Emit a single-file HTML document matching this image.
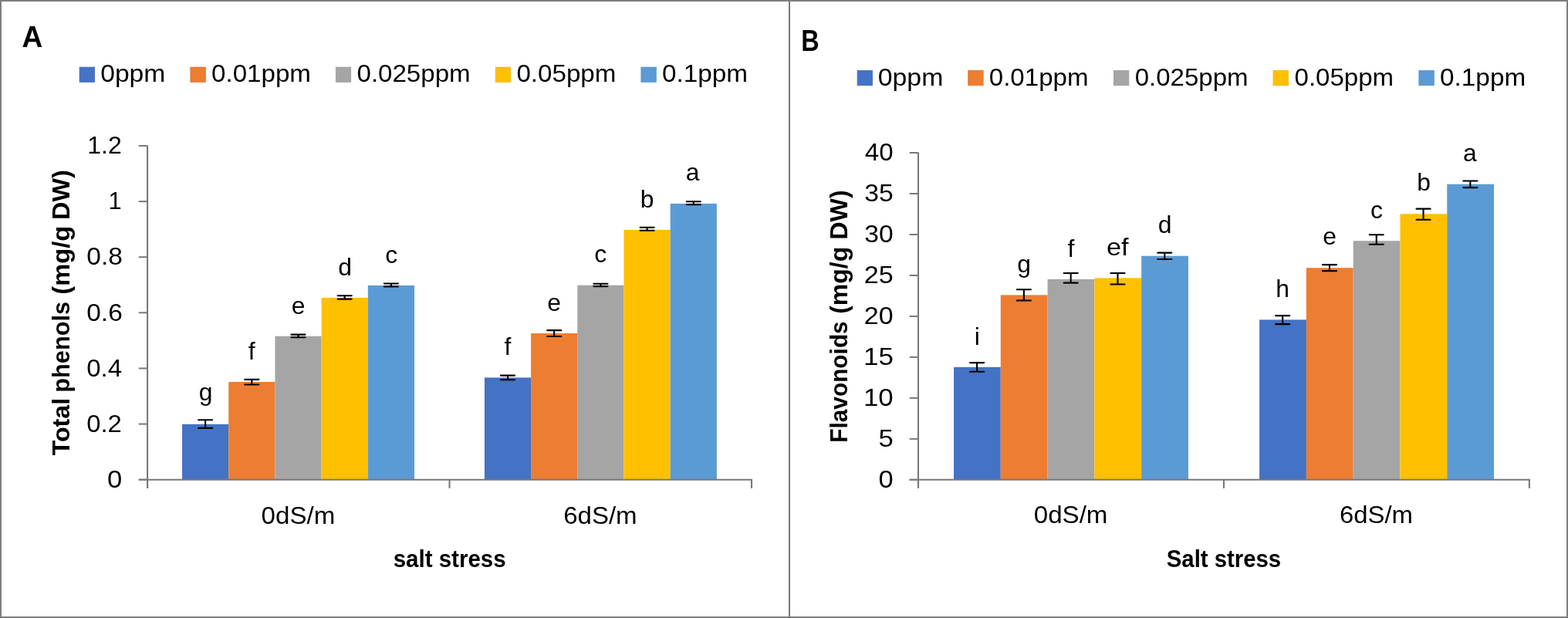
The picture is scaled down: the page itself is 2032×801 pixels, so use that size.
<!DOCTYPE html>
<html><head><meta charset="utf-8"><title>Total phenols and flavonoids</title><style>html,body{margin:0;padding:0;background:#fff;overflow:hidden;}svg{display:block;}</style></head><body>
<svg width="2032" height="801" viewBox="0 0 2032 801" role="img" aria-label="Total phenols and flavonoids under salt stress">
<rect x="0" y="0" width="2032" height="801" fill="#fff"/>
<rect class="bar" x="236.03" y="549.80" width="60.19" height="72.00" fill="#4472C4"/>
<rect class="bar" x="296.22" y="495.00" width="60.19" height="126.80" fill="#ED7D31"/>
<rect class="bar" x="356.41" y="435.70" width="60.19" height="186.10" fill="#A5A5A5"/>
<rect class="bar" x="416.60" y="385.90" width="60.19" height="235.90" fill="#FFC000"/>
<rect class="bar" x="476.79" y="370.00" width="60.19" height="251.80" fill="#5B9BD5"/>
<rect class="bar" x="627.90" y="489.40" width="60.19" height="132.40" fill="#4472C4"/>
<rect class="bar" x="688.09" y="432.00" width="60.19" height="189.80" fill="#ED7D31"/>
<rect class="bar" x="748.28" y="369.70" width="60.19" height="252.10" fill="#A5A5A5"/>
<rect class="bar" x="808.47" y="297.90" width="60.19" height="323.90" fill="#FFC000"/>
<rect class="bar" x="868.66" y="263.90" width="60.19" height="357.90" fill="#5B9BD5"/>
<path class="ax" d="M191.05 188.50V632.80" stroke="#787878" stroke-width="2.1" fill="none"/>
<path class="ax" d="M179.75 621.80H975.00" stroke="#787878" stroke-width="2" fill="none"/>
<path class="ax" d="M179.75 621.70H191.05" stroke="#787878" stroke-width="2" fill="none"/>
<path class="ax" d="M179.75 549.58H191.05" stroke="#787878" stroke-width="2" fill="none"/>
<path class="ax" d="M179.75 477.46H191.05" stroke="#787878" stroke-width="2" fill="none"/>
<path class="ax" d="M179.75 405.34H191.05" stroke="#787878" stroke-width="2" fill="none"/>
<path class="ax" d="M179.75 333.22H191.05" stroke="#787878" stroke-width="2" fill="none"/>
<path class="ax" d="M179.75 261.10H191.05" stroke="#787878" stroke-width="2" fill="none"/>
<path class="ax" d="M179.75 188.98H191.05" stroke="#787878" stroke-width="2" fill="none"/>
<path class="ax" d="M191.05 621.80V632.80" stroke="#787878" stroke-width="2.1" fill="none"/>
<path class="ax" d="M582.52 621.80V632.80" stroke="#787878" stroke-width="2.1" fill="none"/>
<path class="ax" d="M974.00 621.80V632.80" stroke="#787878" stroke-width="2.1" fill="none"/>
<path class="err" d="M257.07 544.25H275.18M257.07 554.90H275.18" stroke="#000" stroke-width="2.1" stroke-linecap="round" fill="none"/>
<path class="err" d="M266.12 544.25V554.90" stroke="#000" stroke-width="2.1" fill="none"/>
<path class="err" d="M317.27 491.90H335.37M317.27 498.50H335.37" stroke="#000" stroke-width="2.1" stroke-linecap="round" fill="none"/>
<path class="err" d="M326.32 491.90V498.50" stroke="#000" stroke-width="2.1" fill="none"/>
<path class="err" d="M377.45 433.60H395.56M377.45 437.20H395.56" stroke="#000" stroke-width="2.1" stroke-linecap="round" fill="none"/>
<path class="err" d="M386.50 433.60V437.20" stroke="#000" stroke-width="2.1" fill="none"/>
<path class="err" d="M437.65 383.30H455.75M437.65 387.60H455.75" stroke="#000" stroke-width="2.1" stroke-linecap="round" fill="none"/>
<path class="err" d="M446.70 383.30V387.60" stroke="#000" stroke-width="2.1" fill="none"/>
<path class="err" d="M497.83 367.50H515.93M497.83 371.35H515.93" stroke="#000" stroke-width="2.1" stroke-linecap="round" fill="none"/>
<path class="err" d="M506.88 367.50V371.35" stroke="#000" stroke-width="2.1" fill="none"/>
<path class="err" d="M648.95 486.60H667.04M648.95 492.25H667.04" stroke="#000" stroke-width="2.1" stroke-linecap="round" fill="none"/>
<path class="err" d="M658.00 486.60V492.25" stroke="#000" stroke-width="2.1" fill="none"/>
<path class="err" d="M709.13 428.10H727.23M709.13 436.00H727.23" stroke="#000" stroke-width="2.1" stroke-linecap="round" fill="none"/>
<path class="err" d="M718.18 428.10V436.00" stroke="#000" stroke-width="2.1" fill="none"/>
<path class="err" d="M769.33 367.75H787.42M769.33 371.10H787.42" stroke="#000" stroke-width="2.1" stroke-linecap="round" fill="none"/>
<path class="err" d="M778.38 367.75V371.10" stroke="#000" stroke-width="2.1" fill="none"/>
<path class="err" d="M829.52 294.80H847.62M829.52 298.80H847.62" stroke="#000" stroke-width="2.1" stroke-linecap="round" fill="none"/>
<path class="err" d="M838.57 294.80V298.80" stroke="#000" stroke-width="2.1" fill="none"/>
<path class="err" d="M889.71 261.20H907.80M889.71 265.10H907.80" stroke="#000" stroke-width="2.1" stroke-linecap="round" fill="none"/>
<path class="err" d="M898.75 261.20V265.10" stroke="#000" stroke-width="2.1" fill="none"/>
<rect class="leg" x="103.10" y="87.10" width="19.4" height="19.2" fill="#4472C4" stroke="#3F6AB8" stroke-width="0.8"/>
<rect class="leg" x="246.90" y="87.10" width="19.4" height="19.2" fill="#ED7D31" stroke="#E2711F" stroke-width="0.8"/>
<rect class="leg" x="435.30" y="87.10" width="19.4" height="19.2" fill="#A5A5A5" stroke="#9C9C9C" stroke-width="0.8"/>
<rect class="leg" x="642.20" y="87.10" width="19.4" height="19.2" fill="#FFC000" stroke="#F2B600" stroke-width="0.8"/>
<rect class="leg" x="830.90" y="87.10" width="19.4" height="19.2" fill="#5B9BD5" stroke="#5292CF" stroke-width="0.8"/>
<rect class="bar" x="1236.00" y="475.80" width="60.79" height="146.05" fill="#4472C4"/>
<rect class="bar" x="1296.79" y="382.40" width="60.79" height="239.45" fill="#ED7D31"/>
<rect class="bar" x="1357.58" y="361.90" width="60.79" height="259.95" fill="#A5A5A5"/>
<rect class="bar" x="1418.37" y="360.40" width="60.79" height="261.45" fill="#FFC000"/>
<rect class="bar" x="1479.16" y="331.70" width="60.79" height="290.15" fill="#5B9BD5"/>
<rect class="bar" x="1632.10" y="414.40" width="60.79" height="207.45" fill="#4472C4"/>
<rect class="bar" x="1692.89" y="347.20" width="60.79" height="274.65" fill="#ED7D31"/>
<rect class="bar" x="1753.68" y="312.20" width="60.79" height="309.65" fill="#A5A5A5"/>
<rect class="bar" x="1814.47" y="277.30" width="60.79" height="344.55" fill="#FFC000"/>
<rect class="bar" x="1875.26" y="238.70" width="60.79" height="383.15" fill="#5B9BD5"/>
<path class="ax" d="M1190.00 197.50V632.85" stroke="#787878" stroke-width="2.1" fill="none"/>
<path class="ax" d="M1178.70 621.85H1982.90" stroke="#787878" stroke-width="2" fill="none"/>
<path class="ax" d="M1178.70 621.85H1190.00" stroke="#787878" stroke-width="2" fill="none"/>
<path class="ax" d="M1178.70 568.87H1190.00" stroke="#787878" stroke-width="2" fill="none"/>
<path class="ax" d="M1178.70 515.89H1190.00" stroke="#787878" stroke-width="2" fill="none"/>
<path class="ax" d="M1178.70 462.91H1190.00" stroke="#787878" stroke-width="2" fill="none"/>
<path class="ax" d="M1178.70 409.93H1190.00" stroke="#787878" stroke-width="2" fill="none"/>
<path class="ax" d="M1178.70 356.95H1190.00" stroke="#787878" stroke-width="2" fill="none"/>
<path class="ax" d="M1178.70 303.97H1190.00" stroke="#787878" stroke-width="2" fill="none"/>
<path class="ax" d="M1178.70 250.99H1190.00" stroke="#787878" stroke-width="2" fill="none"/>
<path class="ax" d="M1178.70 198.01H1190.00" stroke="#787878" stroke-width="2" fill="none"/>
<path class="ax" d="M1190.00 621.85V632.85" stroke="#787878" stroke-width="2.1" fill="none"/>
<path class="ax" d="M1585.95 621.85V632.85" stroke="#787878" stroke-width="2.1" fill="none"/>
<path class="ax" d="M1981.90 621.85V632.85" stroke="#787878" stroke-width="2.1" fill="none"/>
<path class="err" d="M1257.05 470.10H1275.14M1257.05 481.80H1275.14" stroke="#000" stroke-width="2.1" stroke-linecap="round" fill="none"/>
<path class="err" d="M1266.10 470.10V481.80" stroke="#000" stroke-width="2.1" fill="none"/>
<path class="err" d="M1317.84 375.30H1335.93M1317.84 389.50H1335.93" stroke="#000" stroke-width="2.1" stroke-linecap="round" fill="none"/>
<path class="err" d="M1326.88 375.30V389.50" stroke="#000" stroke-width="2.1" fill="none"/>
<path class="err" d="M1378.62 354.00H1396.72M1378.62 366.60H1396.72" stroke="#000" stroke-width="2.1" stroke-linecap="round" fill="none"/>
<path class="err" d="M1387.67 354.00V366.60" stroke="#000" stroke-width="2.1" fill="none"/>
<path class="err" d="M1439.41 354.00H1457.51M1439.41 368.50H1457.51" stroke="#000" stroke-width="2.1" stroke-linecap="round" fill="none"/>
<path class="err" d="M1448.46 354.00V368.50" stroke="#000" stroke-width="2.1" fill="none"/>
<path class="err" d="M1500.21 327.60H1518.31M1500.21 336.00H1518.31" stroke="#000" stroke-width="2.1" stroke-linecap="round" fill="none"/>
<path class="err" d="M1509.26 327.60V336.00" stroke="#000" stroke-width="2.1" fill="none"/>
<path class="err" d="M1653.14 409.10H1671.24M1653.14 420.10H1671.24" stroke="#000" stroke-width="2.1" stroke-linecap="round" fill="none"/>
<path class="err" d="M1662.19 409.10V420.10" stroke="#000" stroke-width="2.1" fill="none"/>
<path class="err" d="M1713.93 343.10H1732.03M1713.93 351.10H1732.03" stroke="#000" stroke-width="2.1" stroke-linecap="round" fill="none"/>
<path class="err" d="M1722.98 343.10V351.10" stroke="#000" stroke-width="2.1" fill="none"/>
<path class="err" d="M1774.72 304.20H1792.82M1774.72 316.70H1792.82" stroke="#000" stroke-width="2.1" stroke-linecap="round" fill="none"/>
<path class="err" d="M1783.77 304.20V316.70" stroke="#000" stroke-width="2.1" fill="none"/>
<path class="err" d="M1835.51 270.65H1853.61M1835.51 284.80H1853.61" stroke="#000" stroke-width="2.1" stroke-linecap="round" fill="none"/>
<path class="err" d="M1844.56 270.65V284.80" stroke="#000" stroke-width="2.1" fill="none"/>
<path class="err" d="M1896.31 234.50H1914.40M1896.31 243.10H1914.40" stroke="#000" stroke-width="2.1" stroke-linecap="round" fill="none"/>
<path class="err" d="M1905.36 234.50V243.10" stroke="#000" stroke-width="2.1" fill="none"/>
<rect class="leg" x="1111.10" y="91.50" width="19.4" height="19.2" fill="#4472C4" stroke="#3F6AB8" stroke-width="0.8"/>
<rect class="leg" x="1254.70" y="91.50" width="19.4" height="19.2" fill="#ED7D31" stroke="#E2711F" stroke-width="0.8"/>
<rect class="leg" x="1443.40" y="91.50" width="19.4" height="19.2" fill="#A5A5A5" stroke="#9C9C9C" stroke-width="0.8"/>
<rect class="leg" x="1650.00" y="91.50" width="19.4" height="19.2" fill="#FFC000" stroke="#F2B600" stroke-width="0.8"/>
<rect class="leg" x="1838.90" y="91.50" width="19.4" height="19.2" fill="#5B9BD5" stroke="#5292CF" stroke-width="0.8"/>
<rect class="bd" x="1" y="1" width="2030" height="799" fill="none" stroke="#7f7f7f" stroke-width="2"/>
<rect class="bd" x="1022" y="0" width="2" height="801" fill="#787878"/>
<g font-family='"Liberation Sans", sans-serif' fill="#000">
<text class="t" id="pA" x="28.38" y="61.33" font-size="39.20" font-weight="bold" textLength="26.80" lengthAdjust="spacingAndGlyphs">A</text>
<text class="t" id="pB" x="1038.23" y="65.88" font-size="39.20" font-weight="bold" textLength="23.45" lengthAdjust="spacingAndGlyphs">B</text>
<text class="t" id="lA0" x="130.19" y="106.43" font-size="31.90" font-weight="normal" textLength="84.13" lengthAdjust="spacingAndGlyphs">0ppm</text>
<text class="t" id="lA1" x="274.01" y="106.43" font-size="31.90" font-weight="normal" textLength="128.98" lengthAdjust="spacingAndGlyphs">0.01ppm</text>
<text class="t" id="lA2" x="462.51" y="106.43" font-size="31.90" font-weight="normal" textLength="147.07" lengthAdjust="spacingAndGlyphs">0.025ppm</text>
<text class="t" id="lA3" x="669.41" y="106.43" font-size="31.90" font-weight="normal" textLength="128.98" lengthAdjust="spacingAndGlyphs">0.05ppm</text>
<text class="t" id="lA4" x="857.90" y="106.43" font-size="31.90" font-weight="normal" textLength="111.10" lengthAdjust="spacingAndGlyphs">0.1ppm</text>
<text class="t" id="lB0" x="1137.78" y="110.93" font-size="31.90" font-weight="normal" textLength="84.55" lengthAdjust="spacingAndGlyphs">0ppm</text>
<text class="t" id="lB1" x="1281.81" y="110.93" font-size="31.90" font-weight="normal" textLength="128.67" lengthAdjust="spacingAndGlyphs">0.01ppm</text>
<text class="t" id="lB2" x="1470.71" y="110.93" font-size="31.90" font-weight="normal" textLength="146.87" lengthAdjust="spacingAndGlyphs">0.025ppm</text>
<text class="t" id="lB3" x="1677.51" y="110.93" font-size="31.90" font-weight="normal" textLength="128.67" lengthAdjust="spacingAndGlyphs">0.05ppm</text>
<text class="t" id="lB4" x="1866.00" y="110.93" font-size="31.90" font-weight="normal" textLength="111.20" lengthAdjust="spacingAndGlyphs">0.1ppm</text>
<text class="t" id="yA0" x="139.14" y="631.88" font-size="31.90" font-weight="normal" textLength="19.31" lengthAdjust="spacingAndGlyphs">0</text>
<text class="t" id="yA1" x="112.22" y="559.76" font-size="31.90" font-weight="normal" textLength="45.63" lengthAdjust="spacingAndGlyphs">0.2</text>
<text class="t" id="yA2" x="112.21" y="487.64" font-size="31.90" font-weight="normal" textLength="45.85" lengthAdjust="spacingAndGlyphs">0.4</text>
<text class="t" id="yA3" x="112.29" y="415.52" font-size="31.90" font-weight="normal" textLength="46.48" lengthAdjust="spacingAndGlyphs">0.6</text>
<text class="t" id="yA4" x="112.29" y="343.40" font-size="31.90" font-weight="normal" textLength="46.56" lengthAdjust="spacingAndGlyphs">0.8</text>
<text class="t" id="yA5" x="140.45" y="271.27" font-size="31.90" font-weight="normal" textLength="17.16" lengthAdjust="spacingAndGlyphs">1</text>
<text class="t" id="yA6" x="113.26" y="199.32" font-size="31.90" font-weight="normal" textLength="44.44" lengthAdjust="spacingAndGlyphs">1.2</text>
<text class="t" id="yB0" x="1138.55" y="631.83" font-size="31.90" font-weight="normal" textLength="19.20" lengthAdjust="spacingAndGlyphs">0</text>
<text class="t" id="yB1" x="1138.51" y="578.69" font-size="31.90" font-weight="normal" textLength="19.35" lengthAdjust="spacingAndGlyphs">5</text>
<text class="t" id="yB2" x="1118.94" y="525.87" font-size="31.90" font-weight="normal" textLength="38.82" lengthAdjust="spacingAndGlyphs">10</text>
<text class="t" id="yB3" x="1118.93" y="472.73" font-size="31.90" font-weight="normal" textLength="38.94" lengthAdjust="spacingAndGlyphs">15</text>
<text class="t" id="yB4" x="1119.89" y="419.91" font-size="31.90" font-weight="normal" textLength="37.84" lengthAdjust="spacingAndGlyphs">20</text>
<text class="t" id="yB5" x="1119.88" y="366.93" font-size="31.90" font-weight="normal" textLength="37.95" lengthAdjust="spacingAndGlyphs">25</text>
<text class="t" id="yB6" x="1120.32" y="313.95" font-size="31.90" font-weight="normal" textLength="37.39" lengthAdjust="spacingAndGlyphs">30</text>
<text class="t" id="yB7" x="1120.32" y="260.97" font-size="31.90" font-weight="normal" textLength="37.50" lengthAdjust="spacingAndGlyphs">35</text>
<text class="t" id="yB8" x="1120.84" y="207.99" font-size="31.90" font-weight="normal" textLength="36.85" lengthAdjust="spacingAndGlyphs">40</text>
<text class="t" id="cA0" x="338.61" y="678.50" font-size="31.90" font-weight="normal" textLength="95.57" lengthAdjust="spacingAndGlyphs">0dS/m</text>
<text class="t" id="cA1" x="730.22" y="678.50" font-size="31.90" font-weight="normal" textLength="95.35" lengthAdjust="spacingAndGlyphs">6dS/m</text>
<text class="t" id="cB0" x="1339.71" y="678.20" font-size="31.90" font-weight="normal" textLength="95.78" lengthAdjust="spacingAndGlyphs">0dS/m</text>
<text class="t" id="cB1" x="1735.93" y="678.20" font-size="31.90" font-weight="normal" textLength="95.04" lengthAdjust="spacingAndGlyphs">6dS/m</text>
<text class="t" id="tA" x="509.66" y="734.70" font-size="31.90" font-weight="bold" textLength="145.95" lengthAdjust="spacingAndGlyphs">salt stress</text>
<text class="t" id="tB" x="1511.75" y="735.00" font-size="31.90" font-weight="bold" textLength="148.45" lengthAdjust="spacingAndGlyphs">Salt stress</text>
<text class="t" id="vA0" transform="translate(90.25,590.35) rotate(-90)" x="0" y="0" font-size="31.90" font-weight="bold" textLength="74.56" lengthAdjust="spacingAndGlyphs">Total</text>
<text class="t" id="vA1" transform="translate(90.25,508.73) rotate(-90)" x="0" y="0" font-size="31.90" font-weight="bold" textLength="117.89" lengthAdjust="spacingAndGlyphs">phenols</text>
<text class="t" id="vA2" transform="translate(90.25,381.63) rotate(-90)" x="0" y="0" font-size="31.90" font-weight="bold" textLength="88.81" lengthAdjust="spacingAndGlyphs">(mg/g</text>
<text class="t" id="vA3" transform="translate(90.25,284.97) rotate(-90)" x="0" y="0" font-size="31.90" font-weight="bold" textLength="64.78" lengthAdjust="spacingAndGlyphs">DW)</text>
<text class="t" id="vB0" transform="translate(1098.20,573.80) rotate(-90)" x="0" y="0" font-size="31.90" font-weight="bold" textLength="157.52" lengthAdjust="spacingAndGlyphs">Flavonoids</text>
<text class="t" id="vB1" transform="translate(1098.20,406.79) rotate(-90)" x="0" y="0" font-size="31.90" font-weight="bold" textLength="86.93" lengthAdjust="spacingAndGlyphs">(mg/g</text>
<text class="t" id="vB2" transform="translate(1098.20,310.65) rotate(-90)" x="0" y="0" font-size="31.90" font-weight="bold" textLength="64.36" lengthAdjust="spacingAndGlyphs">DW)</text>
<text class="t" id="aA0" x="257.74" y="518.60" font-size="31.90" font-weight="normal" textLength="17.74" lengthAdjust="spacingAndGlyphs">g</text>
<text class="t" id="aA1" x="321.87" y="465.80" font-size="31.90" font-weight="normal" textLength="8.86" lengthAdjust="spacingAndGlyphs">f</text>
<text class="t" id="aA2" x="377.86" y="406.70" font-size="31.90" font-weight="normal" textLength="17.74" lengthAdjust="spacingAndGlyphs">e</text>
<text class="t" id="aA3" x="438.14" y="356.90" font-size="31.90" font-weight="normal" textLength="17.74" lengthAdjust="spacingAndGlyphs">d</text>
<text class="t" id="aA4" x="499.27" y="341.20" font-size="31.90" font-weight="normal" textLength="15.95" lengthAdjust="spacingAndGlyphs">c</text>
<text class="t" id="aA5" x="653.57" y="459.90" font-size="31.90" font-weight="normal" textLength="8.86" lengthAdjust="spacingAndGlyphs">f</text>
<text class="t" id="aA6" x="709.26" y="402.50" font-size="31.90" font-weight="normal" textLength="17.74" lengthAdjust="spacingAndGlyphs">e</text>
<text class="t" id="aA7" x="770.27" y="340.20" font-size="31.90" font-weight="normal" textLength="15.95" lengthAdjust="spacingAndGlyphs">c</text>
<text class="t" id="aA8" x="829.82" y="268.50" font-size="31.90" font-weight="normal" textLength="17.74" lengthAdjust="spacingAndGlyphs">b</text>
<text class="t" id="aA9" x="888.80" y="234.10" font-size="31.90" font-weight="normal" textLength="17.74" lengthAdjust="spacingAndGlyphs">a</text>
<text class="t" id="aB0" x="1262.76" y="446.90" font-size="31.90" font-weight="normal" textLength="7.09" lengthAdjust="spacingAndGlyphs">i</text>
<text class="t" id="aB1" x="1318.34" y="353.00" font-size="31.90" font-weight="normal" textLength="17.74" lengthAdjust="spacingAndGlyphs">g</text>
<text class="t" id="aB2" x="1383.47" y="333.20" font-size="31.90" font-weight="normal" textLength="8.86" lengthAdjust="spacingAndGlyphs">f</text>
<text class="t" id="aB3" x="1434.04" y="331.10" font-size="31.90" font-weight="normal" textLength="28.61" lengthAdjust="spacingAndGlyphs">ef</text>
<text class="t" id="aB4" x="1500.84" y="302.40" font-size="31.90" font-weight="normal" textLength="17.74" lengthAdjust="spacingAndGlyphs">d</text>
<text class="t" id="aB5" x="1653.31" y="384.80" font-size="31.90" font-weight="normal" textLength="17.74" lengthAdjust="spacingAndGlyphs">h</text>
<text class="t" id="aB6" x="1714.26" y="317.20" font-size="31.90" font-weight="normal" textLength="17.74" lengthAdjust="spacingAndGlyphs">e</text>
<text class="t" id="aB7" x="1775.92" y="283.10" font-size="31.90" font-weight="normal" textLength="15.95" lengthAdjust="spacingAndGlyphs">c</text>
<text class="t" id="aB8" x="1836.17" y="247.10" font-size="31.90" font-weight="normal" textLength="17.74" lengthAdjust="spacingAndGlyphs">b</text>
<text class="t" id="aB9" x="1895.95" y="208.90" font-size="31.90" font-weight="normal" textLength="17.74" lengthAdjust="spacingAndGlyphs">a</text>
</g>
</svg>
</body></html>
